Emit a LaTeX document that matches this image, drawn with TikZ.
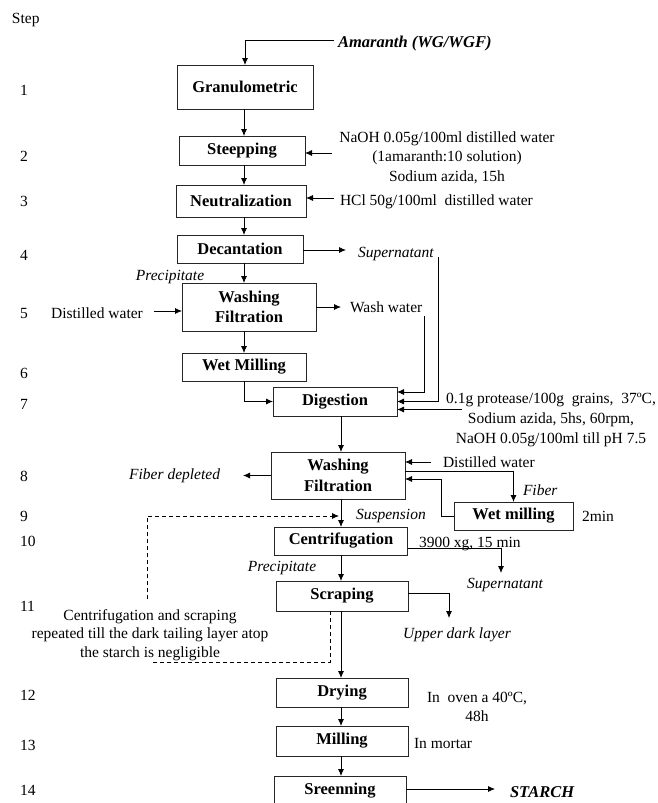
\documentclass[tikz,border=0pt]{standalone}
\usepackage{fontspec}
\setmainfont{Liberation Serif}
\usetikzlibrary{arrows.meta,calc}
\begin{document}
\begin{tikzpicture}[x=1pt,y=-1pt,
  every node/.style={inner sep=0pt, outer sep=0pt},
  box/.style={draw=black!85, line width=0.8pt, font=\fontsize{16.5}{20.5}\selectfont\bfseries, align=center},
  txt/.style={font=\fontsize{15.5}{19.5}\selectfont, align=center},
  itx/.style={font=\fontsize{15.5}{19.5}\selectfont\itshape, align=center},
  bix/.style={font=\fontsize{16.5}{20}\selectfont\bfseries\itshape},
  arr/.style={line width=0.8pt, -{Latex[length=7pt,width=6pt]}},
  ln/.style={line width=0.8pt},
  dsh/.style={line width=0.8pt, dash pattern=on 4pt off 3pt}
]
\useasboundingbox (0,0) rectangle (657,803);
\clip (0,0) rectangle (657,803);

\coordinate (cA) at (244,0);
\coordinate (cB) at (341,0);

% step labels
\node[txt, anchor=west] (stp) at (12,20) {Step};
\foreach \n/\yy in {1/90,2/156,3/201,4/255,5/313,6/373,7/404,8/476,9/516,10/541,11/606,12/695,13/745,14/790}
  \node[txt, anchor=west] (s\n) at (20,\yy) {\n};

% boxes
\node[box, minimum width=136pt, minimum height=44pt] (gran) at (245,87) {Granulometric};
\node[box, minimum width=126pt, minimum height=29pt] (steep) at (242,150.5) {Steepping};
\node[box, minimum width=130pt, minimum height=32pt] (neut) at (241,201) {Neutralization};
\node[box, minimum width=126pt, minimum height=28pt] (dec) at (240,249) {Decantation};
\node[box, minimum width=134pt, minimum height=48pt] (wf1) at (249,307) {Washing\\Filtration};
\node[box, minimum width=124pt, minimum height=28pt] (wm1) at (244,367) {Wet Milling};
\node[box, minimum width=124pt, minimum height=29pt] (dig) at (335,401.5) {Digestion};
\node[box, minimum width=134pt, minimum height=47pt] (wf2) at (338,475.5) {Washing\\Filtration};
\node[box, minimum width=119pt, minimum height=28pt] (wm2) at (513.5,516) {Wet milling};
\node[box, minimum width=133pt, minimum height=28pt] (cen) at (341,541) {Centrifugation};
\node[box, minimum width=132pt, minimum height=30pt] (scr) at (342,596) {Scraping};
\node[box, minimum width=132pt, minimum height=29pt] (dry) at (342,692.5) {Drying};
\node[box, minimum width=132pt, minimum height=30pt] (mil) at (342,741) {Milling};
\node[box, minimum width=132pt, minimum height=30pt] (sre) at (340,791) {Sreenning};

% main column arrows
\draw[arr] (gran.south -| cA) -- (steep.north -| cA);
\draw[arr] (steep.south -| cA) -- (neut.north -| cA);
\draw[arr] (neut.south -| cA) -- (dec.north -| cA);
\draw[arr] (dec.south -| cA) -- (wf1.north -| cA);
\draw[arr] (wf1.south -| cA) -- (wm1.north -| cA);
\draw[arr] (wm1.south -| cA) |- (dig.west);
\draw[arr] (dig.south -| cB) -- (wf2.north -| cB);
\draw[arr] (wf2.south -| cB) -- (cen.north -| cB);
\draw[arr] (cen.south -| cB) -- (scr.north -| cB);
\draw[arr] (scr.south -| cB) -- (dry.north -| cB);
\draw[arr] (dry.south -| cB) -- (mil.north -| cB);
\draw[arr] (mil.south -| cB) -- (sre.north -| cB);

% Amaranth
\coordinate (amS) at (334,40);
\draw[arr] (amS) -| (gran.north);
\node[bix, anchor=west] (amar) at (338,44) {Amaranth (WG/WGF)};

% NaOH
\coordinate (naS) at (332,153);
\draw[arr] (naS) -- (naS -| steep.east);
\node[txt] (naoh) at (447,157.5) {NaOH 0.05g/100ml distilled water\\(1amaranth:10 solution)\\Sodium azida, 15h};

% HCl
\coordinate (hclS) at (334,198);
\draw[arr] (hclS) -- (hclS -| neut.east);
\node[txt, anchor=west] (hcl) at (340,201.5) {HCl 50g/100ml\ \ distilled water};

% Supernatant 1
\coordinate (supE) at (346,250);
\draw[arr] (dec.east |- supE) -- (supE);
\node[itx, anchor=west] (sup1) at (358,254) {Supernatant};
\coordinate (supV) at (438,257);
\draw[arr] (supV) |- (dig.east);

% Precipitate 1
\node[itx] (prec1) at (170,277) {Precipitate};

% Distilled water 1
\node[txt] (dw1) at (97,313) {Distilled water};
\coordinate (dwS) at (154,311);
\draw[arr] (dwS) -- (dwS -| wf1.west);

% Wash water
\coordinate (wwE) at (341,307);
\draw[arr] (wf1.east |- wwE) -- (wwE);
\node[txt, anchor=west] (ww) at (350,307) {Wash water};
\coordinate (wwV) at (424,316);
\draw[arr] (wwV) |- ($(dig.east)+(0,-9.5)$);

% protease
\coordinate (protS) at (462,409.5);
\draw[arr] (protS) -- (protS -| dig.east);
\node[txt, font=\fontsize{15.5}{20}\selectfont] (prot) at (551,420) {0.1g protease/100g\ \ grains,\ \ 37ºC,\\Sodium azida, 5hs, 60rpm,\\NaOH 0.05g/100ml till pH 7.5};

% Fiber depleted
\coordinate (fdE) at (243,475.5);
\draw[arr] (wf2.west) -- (fdE);
\node[itx, anchor=east] (fd) at (220,476) {Fiber depleted};

% Distilled water 2
\coordinate (dw2S) at (431,462);
\draw[arr] (dw2S) -- (dw2S -| wf2.east);
\node[txt, anchor=west] (dw2) at (443,462) {Distilled water};

% Fiber
\coordinate (fibS) at (405,471);
\draw[arr] (wf2.east |- fibS) -| (wm2.north);
\node[itx, anchor=west] (fib) at (523,490) {Fiber};

% return from wet milling
\coordinate (retC) at (441,479);
\draw[arr] (wm2.west) -| (retC) -- (retC -| wf2.east);
\node[txt, anchor=west] (two) at (582,516) {2min};

% Suspension
\node[itx, anchor=west] (susp) at (356,516) {Suspension};

% dashed loop
\coordinate (dA) at (147,599);
\coordinate (dB) at (147,516);
\coordinate (dC) at (339,516);
\draw[dsh, -{Latex[length=7pt,width=6pt]}] (dA) -- (dB) -- (dC);

% Precipitate 2
\node[itx] (prec2) at (282,568) {Precipitate};

% 3900 xg
\node[txt, anchor=west] (g3900) at (419,544) {3900 xg, 15 min};
\coordinate (c3) at (501,548);
\coordinate (c3b) at (501,573);
\draw[arr] (cen.east |- c3) -- (c3) -- (c3b);
\node[itx] (sup2) at (505,585) {Supernatant};

% Upper dark layer
\coordinate (ud) at (449,593);
\coordinate (udb) at (449,618);
\draw[arr] (scr.east |- ud) -- (ud) -- (udb);
\node[itx] (udl) at (457,635) {Upper dark layer};

% note
\node[txt, font=\fontsize{15.5}{18.5}\selectfont] (note) at (150,635) {Centrifugation and scraping\\repeated till the dark tailing layer atop\\the starch is negligible};
\coordinate (dD) at (330,662);
\coordinate (dE) at (153,662);
\draw[dsh] (scr.south -| dD) -- (dD) -- (dE);

% Drying / Milling notes
\node[txt] (oven) at (477,707) {In\ \ oven a 40ºC,\\48h};
\node[txt, anchor=west] (mort) at (414,743) {In mortar};

% STARCH
\coordinate (stE) at (495,789);
\draw[arr] (sre.east |- stE) -- (stE);
\node[bix, anchor=west] (starch) at (510,792) {STARCH};
\end{tikzpicture}
\end{document}
